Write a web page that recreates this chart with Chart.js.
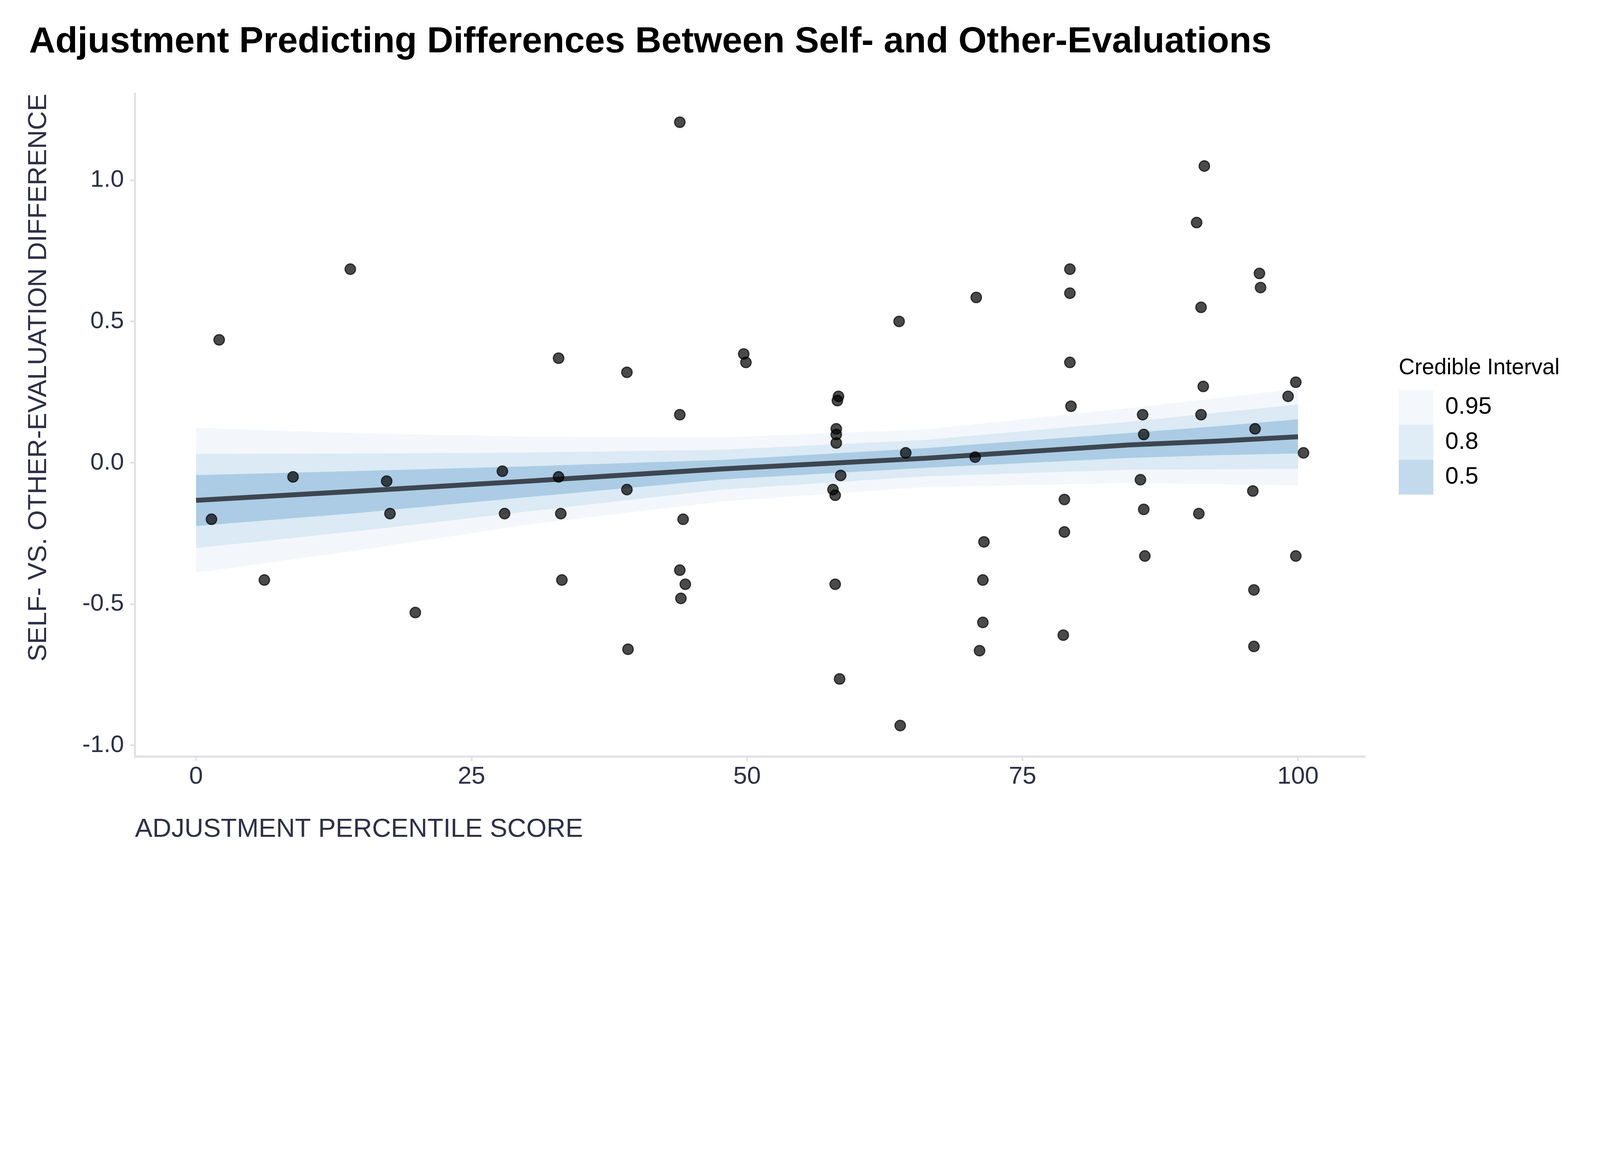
<!DOCTYPE html>
<html>
<head>
<meta charset="utf-8">
<script src="https://cdn.jsdelivr.net/npm/chart.js@4.4.1/dist/chart.umd.min.js"></script>
<style>
html, body { margin: 0; padding: 0; background: #ffffff; overflow: hidden; }
canvas { display: block; }
</style>
</head>
<body>
<canvas id="c"></canvas>
<script>
// ---- data ----
const pointX = [1.4, 2.1, 6.2, 8.8, 14.0, 17.3, 17.6, 19.9, 27.8, 28.0, 32.9, 32.9, 33.1, 33.2, 39.1, 39.1, 39.2, 43.9, 43.9, 43.9, 44.0, 44.2, 44.4, 49.7, 49.9, 57.8, 58.0, 58.0, 58.1, 58.1, 58.1, 58.2, 58.3, 58.5, 58.4, 63.8, 63.9, 64.4, 70.7, 70.8, 71.1, 71.4, 71.4, 71.5, 78.7, 78.8, 78.8, 79.3, 79.3, 79.3, 79.4, 85.7, 85.9, 86.0, 86.0, 86.1, 90.8, 91.0, 91.2, 91.2, 91.4, 91.5, 95.9, 96.0, 96.0, 96.1, 96.5, 96.6, 99.1, 99.8, 99.8, 100.5];
const pointY = [-0.20, 0.435, -0.415, -0.05, 0.685, -0.065, -0.18, -0.53, -0.03, -0.18, 0.37, -0.05, -0.18, -0.415, 0.32, -0.095, -0.66, 1.205, 0.17, -0.38, -0.48, -0.20, -0.43, 0.385, 0.355, -0.095, -0.115, -0.43, 0.12, 0.10, 0.07, 0.22, 0.235, -0.045, -0.765, 0.50, -0.93, 0.035, 0.02, 0.585, -0.665, -0.415, -0.565, -0.28, -0.61, -0.13, -0.245, 0.685, 0.60, 0.355, 0.20, -0.06, 0.17, 0.10, -0.165, -0.33, 0.85, -0.18, 0.55, 0.17, 0.27, 1.05, -0.10, -0.45, -0.65, 0.12, 0.67, 0.62, 0.235, 0.285, -0.33, 0.035];

const bandX = [0, 14.9, 29.7, 47.7, 66.2, 84.6, 92.9, 100];
const lo95  = [-0.389, -0.309, -0.221, -0.137, -0.086, -0.072, -0.076, -0.081];
const lo80  = [-0.302, -0.241, -0.174, -0.095, -0.048, -0.025, -0.023, -0.021];
const lo50  = [-0.224, -0.177, -0.123, -0.059, -0.018, 0.017, 0.027, 0.033];
const fitY  = [-0.133, -0.100, -0.066, -0.022, 0.016, 0.063, 0.077, 0.092];
const hi50  = [-0.044, -0.029, -0.013, 0.010, 0.052, 0.105, 0.130, 0.154];
const hi80  = [0.031, 0.033, 0.036, 0.046, 0.081, 0.145, 0.178, 0.206];
const hi95  = [0.124, 0.104, 0.093, 0.090, 0.118, 0.193, 0.230, 0.262];

const intervalLabels = ['0.95', '0.8', '0.5'];
const xTicks = [0, 25, 50, 75, 100];
const yTicks = [-1.0, -0.5, 0.0, 0.5, 1.0];

// ---- sizing: design is 5500 x 3000, scaled to whatever the viewport is ----
const VW = window.innerWidth || 5500;
const VH = window.innerHeight || 3000;
const S = Math.min(VW / 5500, VH / 3000);
const px = (v) => v * S;

const canvas = document.getElementById('c');
canvas.width = Math.round(5500 * S);
canvas.height = Math.round(3000 * S);

// ---- styles ----
const FONT = "'Liberation Sans', Arial, Helvetica, sans-serif";
const AXIS_TEXT = '#2d3047';
const AXIS_LINE = '#e0e1e7';
const bandColors = ['#f3f7fb', '#dbeaf4', '#abcce4'];
const legendColors = ['#f4f8fc', '#e0edf6', '#c3d9ec'];
const CLEAR = 'rgba(0,0,0,0)';

const pts = (xs, ys) => xs.map((x, i) => ({ x: x, y: ys[i] }));
const edge = (label, ys, order) => ({ label: label, data: pts(bandX, ys), borderColor: CLEAR, borderWidth: 0, pointRadius: 0, fill: false, order: order });
const band = (label, ys, color, order) => ({ label: label, data: pts(bandX, ys), borderColor: CLEAR, borderWidth: 0, pointRadius: 0, fill: '-1', backgroundColor: color, order: order });

const datasets = [
  edge('lo95', lo95, 6),
  band('0.95', hi95, bandColors[0], 6),
  edge('lo80', lo80, 5),
  band('0.8', hi80, bandColors[1], 5),
  edge('lo50', lo50, 4),
  band('0.5', hi50, bandColors[2], 4),
  { label: 'fit', data: pts(bandX, fitY), borderColor: '#3d4650', borderWidth: px(17), pointRadius: 0, fill: false, borderCapStyle: 'butt', order: 2 },
  { label: 'obs', data: pts(pointX, pointY), showLine: false, pointRadius: px(18), pointBorderWidth: px(4),
    pointBackgroundColor: 'rgba(0,0,0,0.71)', pointBorderColor: 'rgba(0,0,0,0.71)', fill: false, order: 1 }
];

const tickGrid = { display: true, drawOnChartArea: false, drawTicks: true, tickLength: px(16), tickWidth: px(6), tickColor: AXIS_LINE };
const axisBorder = { display: true, color: AXIS_LINE, width: px(7) };

// legend box wide enough for its title (Chart.js clips the legend to its box)
const LEGEND_WIDTH = 560;
const legendWidthPlugin = {
  id: 'legendWidth',
  beforeLayout(chart) {
    const lg = chart.legend;
    if (lg && !lg.__wPatched) {
      const origFit = lg.fit;
      lg.fit = function () { origFit.call(this); this.width = px(LEGEND_WIDTH); };
      lg.__wPatched = true;
    }
  }
};

new Chart(canvas, {
  type: 'line',
  data: { datasets: datasets },
  plugins: [legendWidthPlugin],
  options: {
    responsive: false,
    animation: false,
    layout: { padding: { left: px(100), right: px(132), top: px(40), bottom: px(60) } },
    plugins: {
      tooltip: { enabled: false },
      title: {
        display: true,
        text: 'Adjustment Predicting Differences Between Self- and Other-Evaluations',
        align: 'start',
        color: '#000000',
        font: { family: FONT, size: px(125), weight: 'bold', lineHeight: 1.2 },
        padding: { top: px(30), bottom: px(102) }
      },
      legend: {
        position: 'right',
        align: 'center',
        labels: {
          boxWidth: px(119),
          boxHeight: px(120),
          padding: 0,
          color: '#000000',
          font: { family: FONT, size: px(82) },
          generateLabels: () => intervalLabels.map((t, i) => ({
            text: t, fillStyle: legendColors[i], strokeStyle: CLEAR, lineWidth: 0, hidden: false, datasetIndex: 2 * i + 1
          }))
        },
        title: {
          display: true,
          text: 'Credible Interval',
          position: 'start',
          color: '#000000',
          font: { family: FONT, size: px(76), lineHeight: 1.2 },
          padding: { top: px(-52), bottom: px(21) }
        }
      }
    },
    scales: {
      x: {
        type: 'linear',
        min: -5.54,
        max: 106.1,
        afterFit: (s) => { s.height = px(340); },
        afterBuildTicks: (s) => { s.ticks = xTicks.map(v => ({ value: v })); },
        ticks: { color: AXIS_TEXT, font: { family: FONT, size: px(85) }, padding: px(4), maxRotation: 0, callback: (v) => String(v) },
        grid: tickGrid,
        border: axisBorder,
        title: {
          display: true, text: 'ADJUSTMENT PERCENTILE SCORE', align: 'start', color: AXIS_TEXT,
          font: { family: FONT, size: px(90), lineHeight: 1.2 }, padding: { top: 0, bottom: px(34) }
        }
      },
      y: {
        type: 'linear',
        position: 'left',
        min: -1.039,
        max: 1.306,
        afterFit: (s) => { s.width = px(364); },
        afterBuildTicks: (s) => { s.ticks = yTicks.map(v => ({ value: v })); },
        ticks: { color: AXIS_TEXT, font: { family: FONT, size: px(83) }, padding: px(22), callback: (v) => Number(v).toFixed(1) },
        grid: tickGrid,
        border: axisBorder,
        title: {
          display: true, text: 'SELF- VS. OTHER-EVALUATION DIFFERENCE', align: 'end', color: AXIS_TEXT,
          font: { family: FONT, size: px(90), lineHeight: 1.2 }, padding: { top: px(-20), bottom: 0 }
        }
      },
      gap: {
        type: 'linear',
        position: 'right',
        display: true,
        grid: { display: false },
        ticks: { display: false },
        border: { display: false },
        afterFit: (s) => { s.width = px(115); }
      }
    }
  }
});
</script>
</body>
</html>
